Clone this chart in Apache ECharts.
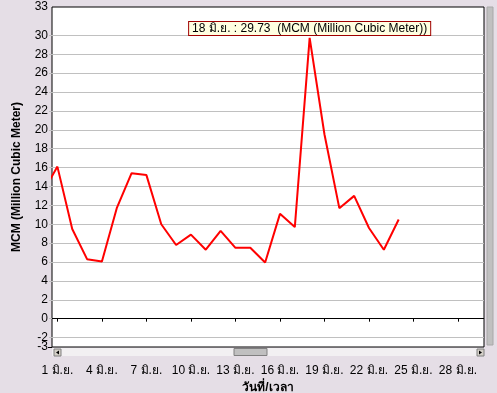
<!DOCTYPE html>
<html>
<head>
<meta charset="utf-8">
<script src="https://cdn.jsdelivr.net/npm/echarts@6/dist/echarts.min.js"></script>
<style>
html,body{margin:0;padding:0;background:#e5dee6;}
#c{width:497px;height:393px;}
</style>
</head>
<body>
<div id="c"></div>
<script>
// Day of June (0 = 31 May)
const days = [0,1,2,3,4,5,6,7,8,9,10,11,12,13,14,15,16,17,18,19,20,21,22,23,24];
const values = [13.3,16.1,9.5,6.3,6.05,11.7,15.4,15.2,10.0,7.8,8.9,7.3,9.3,7.5,7.5,5.95,11.1,9.7,29.73,19.5,11.7,13.0,9.6,7.3,10.5];
const xTickDays = [1,4,7,10,13,16,19,22,25,28];
const monthLabel = 'มิ.ย.';
const yTicks = [-2,0,2,4,6,8,10,12,14,16,18,20,22,24,26,28,30,33];
const yMinTick = [-3];
const yGrid = [-2,0,2,4,6,8,10,12,14,16,18,20,22,24,26,28,30];
const peakIndex = 18;
const seriesName = 'MCM (Million Cubic Meter)';
const xName = 'วันที่/เวลา';

const FONT = '"Liberation Sans", Arial, "DejaVu Sans", sans-serif';
const chart = echarts.init(document.getElementById('c'));
const data = days.map((d,i)=>[d, values[i]]);

const yBase = {
  type: 'value', min: -3, max: 33, position: 'left',
  axisLine: {show: false}
};

chart.setOption({
  backgroundColor: '#e5dee6',
  animation: false,
  grid: {left: 52, right: 13, top: 7, bottom: 46, show: true, backgroundColor: '#ffffff', borderColor: '#000000', borderWidth: 1,
    containLabel: false, outerBoundsMode: 'none'},
  xAxis: {
    type: 'value', min: 0.636, max: 29.75,
    offset: 10,
    axisLine: {show: false},
    axisTick: {show: true, length: 3, customValues: xTickDays, lineStyle: {color: '#000'}},
    axisLabel: {customValues: xTickDays, color: '#000', fontFamily: FONT, fontSize: 12, margin: 8,
      formatter: v => v + ' ' + monthLabel},
    splitLine: {show: false},
    name: xName, nameLocation: 'middle', nameGap: 17,
    nameTextStyle: {color: '#000', fontFamily: FONT, fontSize: 12, fontWeight: 'bold'}
  },
  yAxis: [Object.assign({}, yBase, {
    axisTick: {show: true, length: 3, customValues: yGrid, lineStyle: {color: '#c0c0c0'}},
    axisLabel: {customValues: yTicks, color: '#000', fontFamily: FONT, fontSize: 12, margin: 4},
    splitLine: {show: true, showMinLine: true, showMaxLine: true, lineStyle: {color: '#c0c0c0', width: 1}},
    name: seriesName, nameLocation: 'middle', nameGap: 29, nameRotate: 90,
    nameTextStyle: {color: '#000', fontFamily: FONT, fontSize: 12, fontWeight: 'bold'}
  }), Object.assign({}, yBase, {
    axisTick: {show: true, length: 4, customValues: yMinTick, lineStyle: {color: '#000'}},
    axisLabel: {customValues: yMinTick, color: '#000', fontFamily: FONT, fontSize: 12, margin: 4},
    splitLine: {show: false}
  })],
  series: [{
    type: 'line', name: seriesName, data: data, showSymbol: false, symbol: 'none',
    xAxisIndex: 0, yAxisIndex: 0,
    lineStyle: {color: '#ff0000', width: 2}, clip: true, z: 3,
    markLine: {silent: true, symbol: 'none', label: {show: false}, z: 1,
      lineStyle: {color: '#000', width: 1, type: 'solid'},
      data: [{yAxis: yGrid[0], lineStyle: {color: '#c0c0c0'}}, {yAxis: 0, lineStyle: {color: '#000'}}]},
    markPoint: {
      symbol: 'circle', symbolSize: 0,
      data: [{coord: [days[peakIndex], values[peakIndex]], value: values[peakIndex]}],
      label: {show: true, position: 'top', distance: 3,
        formatter: () => days[peakIndex] + ' ' + monthLabel + ' : ' + values[peakIndex].toFixed(2) + '  (' + seriesName + ')',
        color: '#000', fontFamily: FONT, fontSize: 12, backgroundColor: '#ffffe1',
        borderColor: '#a00000', borderWidth: 1, padding: [1, 3, 0, 3]}
    }
  }],
  graphic: [
    // horizontal scrollbar
    {type: 'rect', shape: {x: 52, y: 348, width: 432, height: 8}, style: {fill: '#f2f0f2', stroke: null}, silent: true},
    {type: 'rect', shape: {x: 54, y: 349, width: 7, height: 7}, style: {fill: '#d4d0c8', stroke: '#808080', lineWidth: 1}, silent: true},
    {type: 'polygon', shape: {points: [[56,352.5],[59,350.5],[59,354.5]]}, style: {fill: '#000'}, silent: true},
    {type: 'rect', shape: {x: 477, y: 349, width: 7, height: 7}, style: {fill: '#d4d0c8', stroke: '#808080', lineWidth: 1}, silent: true},
    {type: 'polygon', shape: {points: [[482,352.5],[479,350.5],[479,354.5]]}, style: {fill: '#000'}, silent: true},
    {type: 'rect', shape: {x: 234, y: 348.5, width: 33, height: 7}, style: {fill: '#c0c0c0', stroke: '#808080', lineWidth: 1}, silent: true},
    // vertical scrollbar
    {type: 'rect', shape: {x: 487, y: 7, width: 6, height: 338}, style: {fill: '#c0c0c0', stroke: '#a8a8a8', lineWidth: 1}, silent: true}
  ]
});
</script>
</body>
</html>
